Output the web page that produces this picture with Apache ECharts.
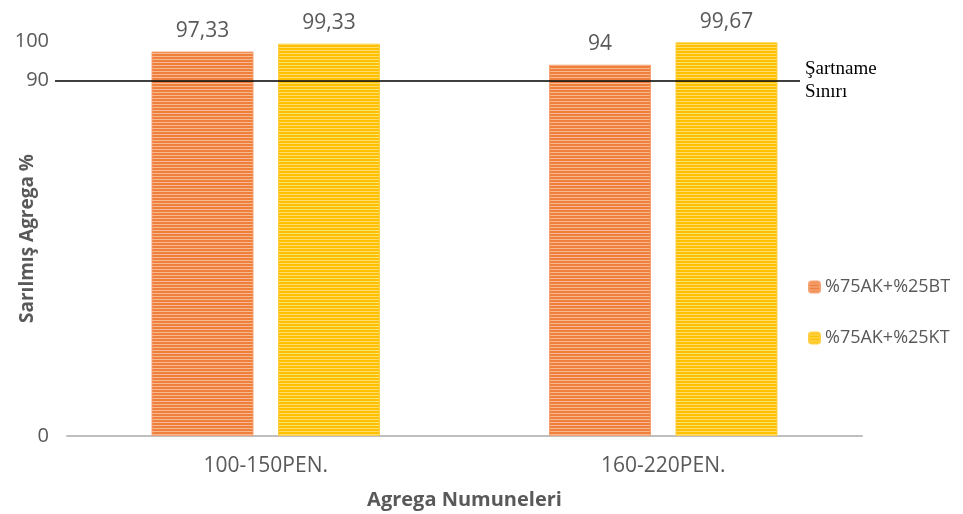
<!DOCTYPE html>
<html>
<head>
<meta charset="utf-8">
<script src="https://cdn.jsdelivr.net/npm/echarts@6/dist/echarts.min.js"></script>
<style>
html, body { margin: 0; padding: 0; background: #fff; }
#chart { width: 963px; height: 514px; }
</style>
</head>
<body>
<div id="chart"></div>
<script>
var categories = ['100-150PEN.', '160-220PEN.'];
var seriesNames = ['%75AK+%25BT', '%75AK+%25KT'];
var valuesBT = [97.33, 94];
var valuesKT = [99.33, 99.67];
var shownTicks = [0, 90, 100];
var limitValue = 90;

// striped fill like the original bars
function stripes(base, light) {
    var c = document.createElement('canvas');
    c.width = 4; c.height = 3;
    var ctx = c.getContext('2d');
    ctx.fillStyle = base;
    ctx.fillRect(0, 0, 4, 3);
    ctx.fillStyle = light;
    ctx.fillRect(0, 2, 4, 1);
    return { image: c, repeat: 'repeat' };
}

var chart = echarts.init(document.getElementById('chart'));
var labelFont = { color: '#595959', fontSize: 21, fontFamily: 'Open Sans' };

var option = {
    animation: false,
    grid: { left: 67, right: 101, top: 41, bottom: 78, containLabel: false, outerBoundsMode: 'none' },
    legend: {
        orient: 'vertical',
        left: 803,
        top: 273,
        itemWidth: 11,
        itemHeight: 11,
        itemGap: 33,
        textStyle: { color: '#595959', fontSize: 18, fontFamily: 'Open Sans' },
        data: seriesNames
    },
    xAxis: {
        type: 'category',
        data: categories,
        name: 'Agrega Numuneleri',
        nameLocation: 'middle',
        nameGap: 54,
        nameMoveOverlap: false,
        nameTextStyle: { color: '#595959', fontSize: 20, fontWeight: 'bold', fontFamily: 'Open Sans' },
        axisLine: { lineStyle: { color: '#bfbfbf', width: 2 } },
        axisTick: { show: false },
        axisLabel: { color: '#595959', fontSize: 21, margin: 20, fontFamily: 'Open Sans' }
    },
    yAxis: {
        type: 'value',
        min: 0,
        max: 100,
        interval: 10,
        name: 'Sarılmış Agrega %',
        nameLocation: 'middle',
        nameGap: 30,
        nameMoveOverlap: false,
        nameTextStyle: { color: '#595959', fontSize: 19, fontWeight: 'bold', fontFamily: 'Open Sans' },
        axisLine: { show: false },
        axisTick: { show: false },
        splitLine: { show: false },
        axisLabel: {
            color: '#595959', fontSize: 20, margin: 18, fontFamily: 'Open Sans',
            formatter: function (v) { return shownTicks.indexOf(v) >= 0 ? String(v) : ''; }
        }
    },
    series: [
        {
            name: seriesNames[0],
            type: 'bar',
            data: valuesBT,
            barWidth: 102,
            barGap: '24%',
            itemStyle: { color: stripes('#ee7f3c', '#f8b890'), borderColor: '#f4a070', borderWidth: 1 },
            label: {
                show: true, position: 'top', distance: 10,
                formatter: function (p) { return String(p.value).replace('.', ','); },
                color: labelFont.color, fontSize: labelFont.fontSize, fontFamily: labelFont.fontFamily
            },
            markLine: {
                silent: true,
                symbol: 'none',
                lineStyle: { color: '#000', width: 1.5, type: 'solid' },
                label: {
                    show: true, position: 'end', distance: 5,
                    formatter: 'Şartname\nSınırı',
                    color: '#000', fontSize: 19, lineHeight: 23, fontFamily: 'Liberation Serif'
                },
                data: [[{ yAxis: limitValue, x: 55 }, { yAxis: limitValue, x: 800 }]]
            }
        },
        {
            name: seriesNames[1],
            type: 'bar',
            data: valuesKT,
            barWidth: 102,
            itemStyle: { color: stripes('#ffc000', '#ffdd70'), borderColor: '#ffcf40', borderWidth: 1 },
            label: {
                show: true, position: 'top', distance: 10,
                formatter: function (p) { return String(p.value).replace('.', ','); },
                color: labelFont.color, fontSize: labelFont.fontSize, fontFamily: labelFont.fontFamily
            }
        }
    ]
};

chart.setOption(option);
</script>
</body>
</html>
